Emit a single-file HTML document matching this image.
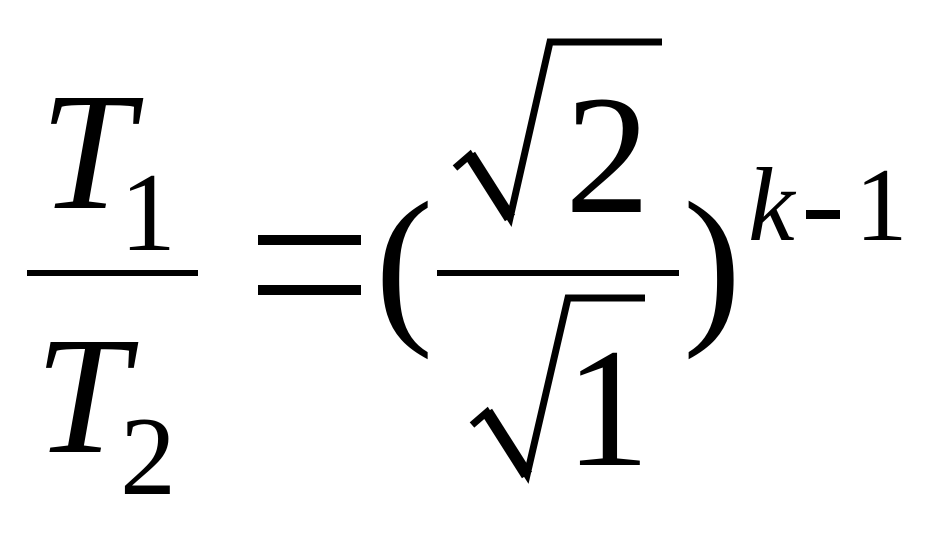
<!DOCTYPE html>
<html><head><meta charset="utf-8"><style>
html,body{margin:0;padding:0;background:#fff;}
svg{display:block;}
text{font-family:"Liberation Serif",serif;fill:#000;}
</style></head><body>
<svg width="937" height="534" viewBox="0 0 937 534" xmlns="http://www.w3.org/2000/svg">
<text x="40" y="208" font-size="168" font-style="italic">T</text>
<text x="120" y="250" font-size="112">1</text>
<rect x="27" y="270" width="171" height="6"/>
<text x="35" y="452" font-size="168" font-style="italic">T</text>
<text x="120" y="494" font-size="112">2</text>
<rect x="258" y="235" width="103" height="10"/>
<rect x="258" y="285" width="103" height="10"/>
<text x="375" y="322" font-size="175">(</text>
<text x="683" y="322" font-size="175">)</text>
<path d="M455,168 L470,155 L510,218 L550,42 L662,42" fill="none" stroke="#000" stroke-width="7" stroke-linejoin="miter"/>
<path d="M470,155 L510,218" stroke="#000" stroke-width="12"/>
<text x="565" y="212" font-size="170">2</text>
<rect x="437" y="270" width="242" height="6"/>
<path d="M472,425 L487,412 L527,475 L568,298 L645,298" fill="none" stroke="#000" stroke-width="7"/>
<path d="M487,412 L527,475" stroke="#000" stroke-width="12"/>
<text x="565" y="465" font-size="170">1</text>
<text x="748" y="240" font-size="105" font-style="italic">k</text>
<rect x="806" y="210" width="34" height="9"/>
<text x="855" y="240" font-size="105">1</text>
</svg>
</body></html>
